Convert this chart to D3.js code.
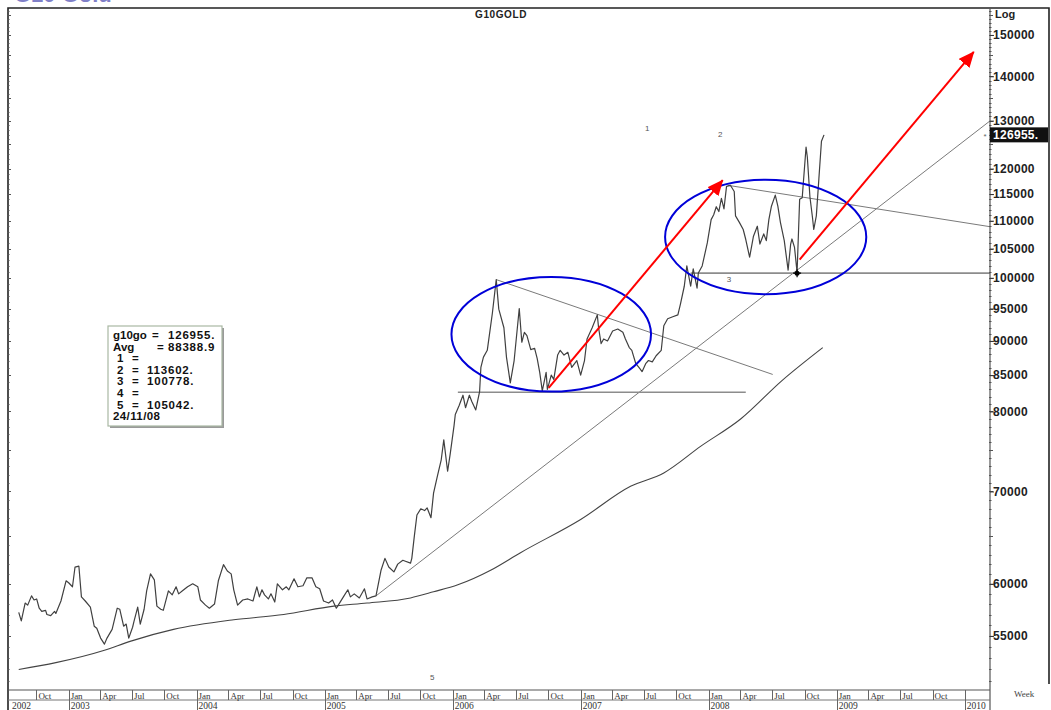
<!DOCTYPE html>
<html>
<head>
<meta charset="utf-8">
<script src="https://cdn.jsdelivr.net/npm/d3@7"></script>
<style>
  body { margin: 0; background: #fff; }
  svg { display: block; font-family: Arial, "Liberation Sans", sans-serif; }
</style>
</head>
<body>
<svg id="chart" width="1051" height="710"></svg>
<script>
// weekly close of G10GOLD (decimal year, value)
var weekYear = [
  2002.61, 2002.63, 2002.66, 2002.68, 2002.71, 2002.73, 2002.75, 2002.77, 2002.79, 2002.82,
  2002.83, 2002.86, 2002.89, 2002.90, 2002.94, 2002.98, 2003.00, 2003.03, 2003.05, 2003.08,
  2003.10, 2003.13, 2003.17, 2003.20, 2003.22, 2003.25, 2003.28, 2003.30, 2003.34, 2003.38,
  2003.40, 2003.43, 2003.45, 2003.47, 2003.50, 2003.51, 2003.54, 2003.56, 2003.59, 2003.61,
  2003.64, 2003.67, 2003.69, 2003.72, 2003.74, 2003.78, 2003.81, 2003.84, 2003.86, 2003.89,
  2003.93, 2003.97, 2004.01, 2004.03, 2004.07, 2004.10, 2004.14, 2004.17, 2004.21, 2004.24,
  2004.27, 2004.29, 2004.32, 2004.36, 2004.40, 2004.44, 2004.47, 2004.49, 2004.51, 2004.53,
  2004.56, 2004.58, 2004.61, 2004.63, 2004.67, 2004.70, 2004.72, 2004.76, 2004.79, 2004.83,
  2004.86, 2004.90, 2004.93, 2004.96, 2004.99, 2005.03, 2005.06, 2005.09, 2005.11, 2005.15,
  2005.18, 2005.20, 2005.23, 2005.27, 2005.31, 2005.33, 2005.37, 2005.40, 2005.44, 2005.47,
  2005.50, 2005.54, 2005.57, 2005.61, 2005.63, 2005.67, 2005.68, 2005.70, 2005.72, 2005.75,
  2005.78, 2005.80, 2005.83, 2005.85, 2005.88, 2005.91, 2005.93, 2005.96, 2005.98, 2006.01,
  2006.02, 2006.05, 2006.08, 2006.10, 2006.13, 2006.15, 2006.18, 2006.21, 2006.22, 2006.24,
  2006.27, 2006.31, 2006.34, 2006.36, 2006.40, 2006.42, 2006.45, 2006.48, 2006.52, 2006.54,
  2006.56, 2006.58, 2006.61, 2006.64, 2006.66, 2006.68, 2006.70, 2006.73, 2006.74, 2006.77,
  2006.79, 2006.82, 2006.84, 2006.87, 2006.90, 2006.93, 2006.97, 2007.00, 2007.03, 2007.05,
  2007.09, 2007.13, 2007.14, 2007.16, 2007.18, 2007.21, 2007.25, 2007.29, 2007.33, 2007.35,
  2007.38, 2007.40, 2007.43, 2007.46, 2007.48, 2007.51, 2007.53, 2007.56, 2007.59, 2007.63,
  2007.65, 2007.68, 2007.72, 2007.76, 2007.78, 2007.81, 2007.83, 2007.86, 2007.88, 2007.91,
  2007.92, 2007.95, 2007.99, 2008.02, 2008.04, 2008.06, 2008.08, 2008.10, 2008.12, 2008.14,
  2008.17, 2008.20, 2008.21, 2008.24, 2008.27, 2008.29, 2008.32, 2008.35, 2008.38, 2008.40,
  2008.43, 2008.45, 2008.47, 2008.49, 2008.52, 2008.54, 2008.56, 2008.59, 2008.62, 2008.64,
  2008.65, 2008.67, 2008.69, 2008.71, 2008.73, 2008.76, 2008.77, 2008.79, 2008.81, 2008.82,
  2008.84, 2008.86, 2008.88, 2008.90
];
var g10go = [
  57200, 56400, 58100, 57900, 58800, 58400, 58500, 57600, 57300, 57400,
  57000, 56900, 57300, 57100, 58300, 60300, 60100, 59700, 61700, 61800,
  58700, 58300, 57700, 55900, 55700, 54800, 54250, 54800, 55600, 57600,
  57500, 55900, 56100, 54800, 55800, 56300, 57700, 56100, 57500, 59300,
  61000, 60400, 57800, 57500, 57400, 59300, 58900, 59700, 59000, 59300,
  59700, 60000, 59700, 58400, 57900, 57600, 58000, 60300, 61950, 61300,
  61000, 59400, 57900, 58400, 58500, 58300, 59700, 58700, 59400, 58900,
  58500, 59000, 58200, 60000, 59400, 59700, 59400, 60500, 59700, 59800,
  60600, 60600, 59700, 59500, 58300, 58100, 58400, 57600, 58000, 58800,
  59400, 58700, 59000, 58600, 59500, 58500, 58700, 58800, 61400, 62600,
  61700, 61200, 62000, 62400, 62300, 62100, 62600, 65000, 67300, 68000,
  67800, 68100, 67000, 69800, 71800, 73800, 76300, 72400, 74500, 78100,
  79600, 80800, 82200, 80500, 82200, 81300, 80200, 82700, 86100, 87600,
  88600, 94300, 99700, 94900, 92000, 87600, 83900, 87100, 95000, 89800,
  91300, 90800, 88700, 88900, 87400, 85400, 82800, 85400, 83000, 85000,
  84400, 87900, 88600, 87900, 88300, 86100, 87100, 85000, 87100, 90300,
  92000, 94000, 92000, 89600, 90300, 90000, 91500, 91800, 91300, 90300,
  89000, 88600, 86700, 86000, 85500, 86700, 87100, 86900, 87800, 88600,
  92300, 93400, 93700, 94000, 95700, 98600, 102000, 98600, 101500, 98300,
  100800, 102000, 106000, 110200, 111100, 112600, 111700, 114200, 112200, 116500,
  116700, 115500, 110900, 109700, 108400, 106600, 103500, 107200, 109000, 105800,
  107600, 106400, 110200, 112700, 114800, 112700, 109700, 106400, 101300, 105800,
  106700, 105200, 100900, 114000, 114300, 124400, 122300, 114500, 110600, 108400,
  110900, 118000, 125600, 126955
];

// long moving average (smooth lower line)
var maYear  = [2002.61, 2002.90, 2003.28, 2003.48, 2003.82, 2004.29, 2004.68, 2005.07, 2005.33, 2005.67,
               2005.85, 2006.04, 2006.30, 2006.53, 2007.00, 2007.39, 2007.65, 2007.94, 2008.25, 2008.57, 2008.89];
var maValue = [52000, 52600, 53700, 54500, 55600, 56500, 57000, 57800, 58100, 58600,
               59200, 59900, 61400, 63200, 66800, 70600, 72200, 75500, 79000, 84200, 89000];

// hand drawn studies: [year, value] ends
var trendLines = [
  { from: [2005.40, 58800],  to: [2010.20, 130000] },
  { from: [2006.34, 99700],  to: [2008.50, 85100] },
  { from: [2008.15, 116700], to: [2010.20, 108900] }
];
var supportLines = [
  { from: [2006.04, 82600],  to: [2008.29, 82600] },
  { from: [2007.86, 100778], to: [2010.20, 100778] }
];
var arrows = [
  { from: [2006.75, 83200],  to: [2008.11, 117700] },
  { from: [2008.71, 103100], to: [2010.07, 145800] }
];
var ellipses = [
  { left: 2005.99, right: 2007.55, top: 100150, bottom: 82700 },
  { left: 2007.66, right: 2009.23, top: 117800, bottom: 97300 }
];
var markerLabels = [
  { t: "1", yr: 2007.52, v: 128400 },
  { t: "2", yr: 2008.09, v: 127100 },
  { t: "3", yr: 2008.16, v: 99800 },
  { t: "5", yr: 2005.84, v: 51300 }
];
var lowPoint = [2008.69, 100778];

// axis labels
var yLabelValues = [55000, 60000, 70000, 80000, 85000, 90000, 95000, 100000,
                    105000, 110000, 115000, 120000, 130000, 140000, 150000];
var monthNames = ["Jan", "Apr", "Jul", "Oct"];
var lastValue = 126955;

var legendNames  = ["g10go", "Avg", "1", "2", "3", "4", "5"];
var legendValues = ["126955.", "88388.9", "", "113602.", "100778.", "", "105042."];
var legendDate = "24/11/08";

// decimal year -> Date
function toDate(yr) {
  var Y = Math.floor(yr);
  var a = new Date(Y, 0, 1), b = new Date(Y + 1, 0, 1);
  return new Date(+a + (yr - Y) * (b - a));
}

var svg = d3.select("#chart");
var pLeft = 8, pRight = 990, pTop = 8, pBottom = 690;

var x = d3.scaleTime()
  .domain([new Date(2002, 6, 12), new Date(2010, 2, 14)])
  .range([pLeft, pRight]);
var y = d3.scaleLog()
  .domain([50250, 156900])
  .range([pBottom, pTop]);

var px = function (p) { return x(toDate(p[0])); };
var py = function (p) { return y(p[1]); };

// cut-off heading at very top of the page
svg.append("text")
  .attr("x", 14).attr("y", 1.5)
  .attr("font-size", 22).attr("font-weight", "bold")
  .attr("fill", "#8080c8")
  .text("G10 Gold");

svg.append("clipPath").attr("id", "plotclip")
  .append("rect").attr("x", pLeft).attr("y", pTop)
  .attr("width", pRight - pLeft).attr("height", pBottom - pTop);

var plot = svg.append("g").attr("clip-path", "url(#plotclip)");

// moving average
var maData = maYear.map(function (d, i) { return { date: toDate(d), v: maValue[i] }; });
plot.append("path")
  .datum(maData)
  .attr("fill", "none")
  .attr("stroke", "#444")
  .attr("stroke-width", 1.1)
  .attr("d", d3.line().curve(d3.curveMonotoneX).x(function (d) { return x(d.date); }).y(function (d) { return y(d.v); }));

// trend lines
plot.selectAll(".trend")
  .data(trendLines)
  .enter().append("line")
  .attr("x1", function (d) { return px(d.from); })
  .attr("y1", function (d) { return py(d.from); })
  .attr("x2", function (d) { return px(d.to); })
  .attr("y2", function (d) { return py(d.to); })
  .attr("stroke", "#7a7a7a")
  .attr("stroke-width", 1);

plot.selectAll(".support")
  .data(supportLines)
  .enter().append("line")
  .attr("x1", function (d) { return px(d.from); })
  .attr("y1", function (d) { return py(d.from); })
  .attr("x2", function (d) { return px(d.to); })
  .attr("y2", function (d) { return py(d.to); })
  .attr("stroke", "#8c8c8c")
  .attr("stroke-width", 1.6);

// price line
var series = weekYear.map(function (d, i) { return { date: toDate(d), v: g10go[i] }; });
plot.append("path")
  .datum(series)
  .attr("fill", "none")
  .attr("stroke", "#404040")
  .attr("stroke-width", 1.2)
  .attr("stroke-linejoin", "round")
  .attr("d", d3.line().x(function (d) { return x(d.date); }).y(function (d) { return y(d.v); }));

// low point marker
plot.append("circle")
  .attr("cx", px(lowPoint)).attr("cy", py(lowPoint))
  .attr("r", 2.5).attr("fill", "#000");
plot.append("path")
  .attr("d", "M" + (px(lowPoint) - 4) + "," + py(lowPoint) + "h8M" + px(lowPoint) + "," + (py(lowPoint) - 4) + "v8")
  .attr("stroke", "#000").attr("stroke-width", 1.2);

// marker labels
plot.selectAll(".mlabel")
  .data(markerLabels)
  .enter().append("text")
  .attr("x", function (d) { return x(toDate(d.yr)); })
  .attr("y", function (d) { return y(d.v); })
  .attr("dy", "0.35em")
  .attr("text-anchor", "middle")
  .attr("font-size", 8)
  .attr("fill", "#555")
  .text(function (d) { return d.t; });

// blue ellipses
plot.selectAll(".ell")
  .data(ellipses)
  .enter().append("ellipse")
  .attr("cx", function (d) { return (x(toDate(d.left)) + x(toDate(d.right))) / 2; })
  .attr("cy", function (d) { return (y(d.top) + y(d.bottom)) / 2; })
  .attr("rx", function (d) { return (x(toDate(d.right)) - x(toDate(d.left))) / 2; })
  .attr("ry", function (d) { return (y(d.bottom) - y(d.top)) / 2; })
  .attr("fill", "none")
  .attr("stroke", "#0000d8")
  .attr("stroke-width", 2);

// red arrows
svg.append("defs").append("marker")
  .attr("id", "head")
  .attr("markerUnits", "userSpaceOnUse")
  .attr("markerWidth", 16).attr("markerHeight", 14)
  .attr("refX", 15).attr("refY", 7)
  .attr("orient", "auto")
  .append("path").attr("d", "M0,0L16,7L0,14Z").attr("fill", "#ff0000");

svg.selectAll(".arrow")
  .data(arrows)
  .enter().append("line")
  .attr("x1", function (d) { return px(d.from); })
  .attr("y1", function (d) { return py(d.from); })
  .attr("x2", function (d) { return px(d.to); })
  .attr("y2", function (d) { return py(d.to); })
  .attr("stroke", "#ff0000")
  .attr("stroke-width", 2)
  .attr("marker-end", "url(#head)");

// frames
svg.append("path")
  .attr("d", "M" + pLeft + ",710V" + pTop + "H1049V684")
  .attr("fill", "none").attr("stroke", "#222").attr("stroke-width", 1.6);
svg.append("line").attr("x1", pRight).attr("x2", pRight).attr("y1", pTop).attr("y2", 710)
  .attr("stroke", "#555").attr("stroke-width", 1.2);
svg.append("line").attr("x1", pLeft).attr("x2", pRight).attr("y1", pBottom).attr("y2", pBottom)
  .attr("stroke", "#555").attr("stroke-width", 1.2);
svg.append("line").attr("x1", pLeft).attr("x2", pRight).attr("y1", 700).attr("y2", 700)
  .attr("stroke", "#777").attr("stroke-width", 1);

// title
svg.append("text").attr("x", 501).attr("y", 18)
  .attr("text-anchor", "middle").attr("font-size", 10).attr("font-weight", "bold")
  .attr("letter-spacing", 0.6).attr("fill", "#222").text("G10GOLD");
svg.append("text").attr("x", 995).attr("y", 18)
  .attr("font-size", 11).attr("font-weight", "bold").attr("fill", "#222").text("Log");

// log axis minor ticks on right axis and left frame
var minorTicks = d3.range(51000, 157000, 1000);
[pRight, pLeft].forEach(function (ax) {
  svg.append("g").selectAll("line")
    .data(minorTicks)
    .enter().append("line")
    .attr("x1", ax - 1).attr("x2", function (d) { return ax + (d % 5000 === 0 ? 3 : 1.5); })
    .attr("y1", function (d) { return Math.round(y(d)) + 0.5; })
    .attr("y2", function (d) { return Math.round(y(d)) + 0.5; })
    .attr("stroke", "#555").attr("stroke-width", 1);
});

var yAxis = svg.append("g")
  .attr("transform", "translate(" + pRight + ",0)")
  .call(d3.axisRight(y).tickValues(yLabelValues).tickSize(4).tickFormat(d3.format("d")));
yAxis.select(".domain").remove();
yAxis.selectAll(".tick line").attr("stroke", "#333");
yAxis.selectAll(".tick text")
  .attr("x", 3)
  .attr("font-family", "Arial, 'Liberation Sans', sans-serif")
  .attr("font-size", 12).attr("font-weight", "bold")
  .attr("letter-spacing", 0.3)
  .attr("fill", "#222");

// last value box
svg.append("rect")
  .attr("x", pRight).attr("y", y(lastValue) - 7.5)
  .attr("width", 58).attr("height", 15).attr("fill", "#111");
svg.append("text")
  .attr("x", pRight + 3).attr("y", y(lastValue)).attr("dy", "0.36em")
  .attr("font-size", 12).attr("font-weight", "bold").attr("letter-spacing", 0.3)
  .attr("fill", "#fff").text(d3.format(".0f")(lastValue) + ".");
svg.append("text")
  .attr("x", pRight - 5).attr("y", y(lastValue) + 4)
  .attr("text-anchor", "middle").attr("font-size", 8).attr("fill", "#666").text("*");

// time axis: quarter cells + year cells
var quarters = d3.timeMonth.every(3).range(new Date(2002, 9, 1), new Date(2010, 1, 1));
var tAxis = svg.append("g").attr("font-family", "'Liberation Serif', 'DejaVu Serif', serif").attr("fill", "#333");
tAxis.selectAll(".qline")
  .data(quarters)
  .enter().append("line")
  .attr("x1", function (d) { return Math.round(x(d)) + 0.5; })
  .attr("x2", function (d) { return Math.round(x(d)) + 0.5; })
  .attr("y1", pBottom).attr("y2", function (d) { return d.getMonth() === 0 ? 710 : 700; })
  .attr("stroke", "#666").attr("stroke-width", 1);
tAxis.selectAll(".qlabel")
  .data(quarters.filter(function (d) { return x(d) + 30 < pRight; }))
  .enter().append("text")
  .attr("x", function (d) { return x(d) + 2; })
  .attr("y", 698.5)
  .attr("font-size", 9)
  .text(function (d) { return monthNames[d.getMonth() / 3]; });
var years = d3.timeYear.range(new Date(2003, 0, 1), new Date(2010, 1, 1));
tAxis.selectAll(".ylabel")
  .data(years)
  .enter().append("text")
  .attr("x", function (d) { return x(d) + 2; })
  .attr("y", 708.5)
  .attr("font-size", 9.5)
  .text(function (d) { return d.getFullYear(); });
tAxis.append("text").attr("x", 12).attr("y", 708.5).attr("font-size", 9.5).text("2002");
tAxis.append("text").attr("x", 1014).attr("y", 697).attr("font-size", 9).attr("fill", "#444").text("Week");

// legend box
var lg = svg.append("g").attr("transform", "translate(108,326)")
  .attr("font-weight", "bold").attr("fill", "#111");
lg.append("rect").attr("x", 2).attr("y", 2).attr("width", 114).attr("height", 100).attr("fill", "#9a9a9a");
lg.append("rect").attr("x", 0).attr("y", 0).attr("width", 114).attr("height", 100)
  .attr("fill", "#fff").attr("stroke", "#a9b8a3").attr("stroke-width", 1.2);
var lineH = 11.6;
var nameX = [5, 5, 9, 9, 9, 9, 9];
var eqX = [44, 49, 24, 24, 24, 24, 24];
var valX = [60, 60, 39, 39, 39, 39, 39];
legendNames.forEach(function (n, i) {
  var yy = 13 + i * lineH;
  lg.append("text").attr("x", nameX[i]).attr("y", yy)
    .attr("font-size", 11.5).text(n);
  lg.append("text").attr("x", eqX[i]).attr("y", yy)
    .attr("font-size", 11.5).text("=");
  lg.append("text").attr("x", valX[i]).attr("y", yy)
    .attr("font-size", 11.5).attr("letter-spacing", 0.8).text(legendValues[i]);
});
lg.append("text").attr("x", 5).attr("y", 13 + 7 * lineH)
  .attr("font-size", 11.5).attr("letter-spacing", 0.4).text(legendDate);
</script>
</body>
</html>
